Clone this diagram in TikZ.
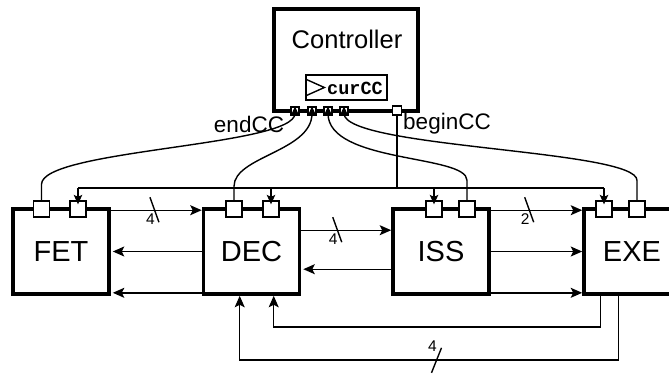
\documentclass[tikz,border=0pt]{standalone}
\usepackage{fontspec}
\setmainfont{Liberation Sans}
\newfontfamily\codefont{Liberation Mono}
\usetikzlibrary{arrows.meta}

\begin{document}
\begin{tikzpicture}[x=1pt, y=-1pt,
    block/.style={draw, line width=3.6pt, minimum width=96pt, minimum height=85pt, inner sep=0pt, font=\fontsize{29}{32}\selectfont},
    port/.style={draw, fill=white, line width=1.3pt, minimum size=16pt, inner sep=0pt},
    cport/.style={draw, fill=white, line width=1.3pt, minimum size=8pt, inner sep=0pt},
    wire/.style={line width=1.4pt},
    data/.style={wire, -{Stealth[length=11.5pt,width=10pt,inset=2.5pt]}},
    cc/.style={wire, -{Stealth[length=9.5pt,width=8.5pt,inset=2pt]}},
    buslabel/.style={font=\fontsize{15.5}{18}\selectfont, inner sep=0pt},
    sig/.style={font=\fontsize{22.5}{26}\selectfont, inner sep=0pt}
  ]
  \useasboundingbox (0,0) rectangle (669,373);
  \clip (0,0) rectangle (669,373);

  % pipeline stages
  \node[block] (fet) at (61,251.5) {FET};
  \node[block] (dec) at (251.5,251.5) {DEC};
  \node[block] (iss) at (441,251.5) {ISS};
  \node[block] (exe) at (632,251.5) {EXE};
  \foreach \n/\x in {fetA/41.5,fetB/78,decA/234,decB/271,issA/434,issB/467,exeA/604,exeB/637} {
    \node[port] (\n) at (\x,209) {};
  }

  % controller
  \node[draw, line width=3.6pt, minimum width=144pt, minimum height=102pt, inner sep=0pt] (controller) at (346,60) {};
  \node[font=\fontsize{25.5}{30}\selectfont, inner sep=0pt] (ctrltitle) at (347,39) {Controller};
  \node[draw, line width=1.3pt, minimum width=81pt, minimum height=25pt, inner sep=0pt] (cur) at (346.5,87.5) {};
  \draw[wire] ([yshift=8.5pt]cur.west) -- ([xshift=19pt]cur.west) -- ([yshift=-8.5pt]cur.west);
  \node[font=\codefont\bfseries\fontsize{18.5}{20}\selectfont, inner sep=0pt] (curtxt) at (355,88) {curCC};
  \foreach \n/\x in {endA/295,endB/312,endC/328,endD/344} {
    \node[cport] (\n) at (\x,111) {};
  }
  \node[cport, minimum size=9pt] (bcc) at (397,110.5) {};
  \node[sig] (endlbl) at (249,124) {endCC};
  \node[sig] (beginlbl) at (447,124) {beginCC};

  % endCC
  \draw[cc] (fetA.north) -- ++(0,-16) .. controls +(0,-35) and +(0,40) .. (endA.north);
  \draw[cc] (decA.north) -- ++(0,-14) .. controls +(0,-30) and +(0,45) .. (endB.north);
  \draw[cc] (issB.north) -- ++(0,-20) .. controls +(0,-26) and +(0,57) .. (endC.north);
  \draw[cc] (exeB.north) -- ++(0,-20) .. controls +(0,-31) and +(0,42) .. (endD.north);

  % beginCC
  \coordinate (bus) at (0,188);
  \draw[wire] (bcc.south) -- (bcc.south |- bus);
  \draw[wire] (fetB |- bus) -- (exeA |- bus);
  \foreach \p in {fetB,decB,issA,exeA} {
    \draw[cc] (\p |- bus) -- ([yshift=-4pt]\p.north);
  }

  % data
  \draw[data] ([yshift=-3pt]fet.north east) -- coordinate[pos=.48] (s1) ([yshift=-3pt]dec.north west);
  \draw[data] (dec.west) -- ([xshift=2pt]fet.east);
  \draw[data] ([yshift=3pt]dec.south west) -- ([shift={(2,-3)}]fet.south east);
  \draw[data] ([yshift=-23pt]dec.north east) -- coordinate[pos=.40] (s2) ([yshift=-23pt]iss.north west);
  \draw[data] ([yshift=-62pt]iss.north west) -- ([shift={(2,62)}]dec.north east);
  \draw[data] ([yshift=-3pt]iss.north east) -- coordinate[pos=.42] (s3) ([yshift=-3pt]exe.north west);
  \draw[data] (iss.east) -- (exe.west);
  \draw[data] ([yshift=3pt]iss.south east) -- ([yshift=3pt]exe.south west);
  \draw[data] ([xshift=18pt]exe.south west) -- ++(0,31) -| ([xshift=72pt]dec.south west);
  \draw[data] ([xshift=36pt]exe.south west) -- ++(0,64) -| coordinate[pos=.24] (s4) ([xshift=38pt]dec.south west);

  % bus widths
  \foreach \c/\t in {s1/4,s2/4,s3/2} {
    \draw[wire] ([shift={(-4.5,-13)}]\c) -- ([shift={(4.5,12)}]\c);
    \node[buslabel] (l\c) at ([shift={(-4,9)}]\c) {\t};
  }
  \draw[wire] ([shift={(5,-12)}]s4) -- ([shift={(-5,13)}]s4);
  \node[buslabel] (ls4) at ([shift={(-4,-14)}]s4) {4};
\end{tikzpicture}
\end{document}
